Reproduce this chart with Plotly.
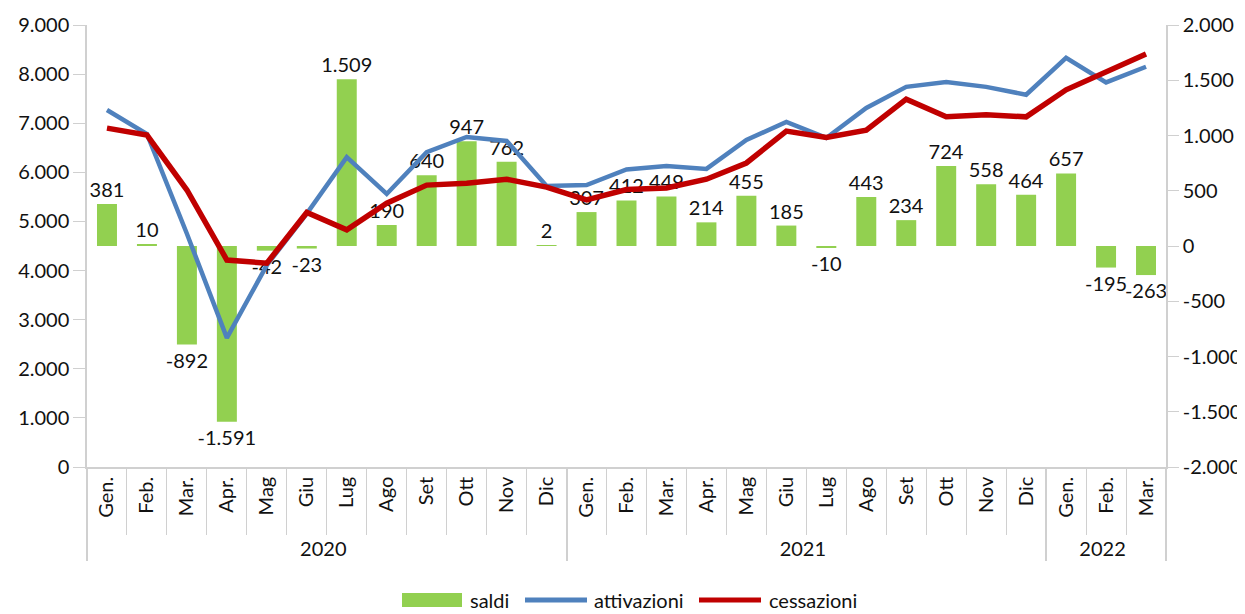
import plotly.graph_objects as go

years = ["2020"] * 12 + ["2021"] * 12 + ["2022"] * 3
months = ["Gen.", "Feb.", "Mar.", "Apr.", "Mag", "Giu", "Lug", "Ago", "Set", "Ott", "Nov", "Dic",
          "Gen.", "Feb.", "Mar.", "Apr.", "Mag", "Giu", "Lug", "Ago", "Set", "Ott", "Nov", "Dic",
          "Gen.", "Feb.", "Mar."]

saldi = [381, 10, -892, -1591, -42, -23, 1509, 190, 640, 947, 762, 2,
         307, 412, 449, 214, 455, 185, -10, 443, 234, 724, 558, 464,
         657, -195, -263]
attivazioni = [7270, 6780, 4750, 2630, 4110, 5160, 6310, 5560, 6410, 6720, 6640, 5720,
               5740, 6060, 6130, 6070, 6660, 7025, 6700, 7310, 7740, 7840, 7740, 7580,
               8330, 7830, 8150]
cessazioni = [6900, 6760, 5640, 4215, 4150, 5183, 4830, 5370, 5740, 5780, 5860, 5700,
              5440, 5650, 5680, 5860, 6190, 6840, 6710, 6860, 7490, 7130, 7170, 7130,
              7680, 8040, 8410]

left_ticks = [0, 1000, 2000, 3000, 4000, 5000, 6000, 7000, 8000, 9000]
right_ticks = [-2000, -1500, -1000, -500, 0, 500, 1000, 1500, 2000]

series_names = ["saldi", "attivazioni", "cessazioni"]
series_colors = ["#92D050", "#4F81BD", "#C00000"]


def it_fmt(v):
    s = f"{abs(v):,}".replace(",", ".")
    return ("-" if v < 0 else "") + s


FONT = "Lato, 'Open Sans', sans-serif"
FS = 20
x = [years, months]

fig = go.Figure()
fig.add_trace(go.Bar(
    x=x, y=saldi, name=series_names[0], yaxis="y", width=0.5,
    marker=dict(color=series_colors[0], line=dict(width=0)),
    text=[it_fmt(v) for v in saldi], textposition="outside", constraintext="none",
    textfont=dict(size=FS, color="#111", family=FONT), cliponaxis=False,
))
fig.add_trace(go.Scatter(
    x=x, y=attivazioni, name=series_names[1], yaxis="y2", mode="lines",
    line=dict(color=series_colors[1], width=4.5),
))
fig.add_trace(go.Scatter(
    x=x, y=cessazioni, name=series_names[2], yaxis="y2", mode="lines",
    line=dict(color=series_colors[2], width=5.5),
))

# --- manual legend (Excel-like wide swatches), in paper coordinates ---
PL, PW, PT, PH = 87, 1079, 25, 442   # plot area in window pixels


def px(xp):
    return (xp - PL) / PW


def py(yp):
    return 1 - (yp - PT) / PH


ly = 600
fig.add_shape(type="rect", xref="paper", yref="paper",
              x0=px(402), x1=px(462), y0=py(ly + 7), y1=py(ly - 7),
              fillcolor=series_colors[0], line=dict(width=0))
fig.add_shape(type="line", xref="paper", yref="paper",
              x0=px(525), x1=px(587), y0=py(ly), y1=py(ly),
              line=dict(color=series_colors[1], width=5))
fig.add_shape(type="line", xref="paper", yref="paper",
              x0=px(699), x1=px(761), y0=py(ly), y1=py(ly),
              line=dict(color=series_colors[2], width=5))
for name, xs in zip(series_names, [468, 592, 767]):
    fig.add_annotation(text=name, xref="paper", yref="paper", x=px(xs), y=py(ly),
                       xanchor="left", yanchor="middle", showarrow=False,
                       font=dict(size=FS, color="#111", family=FONT))

axis_col = "#D0D0D0"
fig.update_layout(
    width=1237, height=606,
    margin=dict(l=79, r=79, t=17, b=147, autoexpand=False),
    paper_bgcolor="white", plot_bgcolor="white",
    font=dict(family=FONT, size=FS, color="#111"),
    separators=",.",
    bargap=0.5,
    showlegend=False,
    xaxis=dict(
        type="multicategory", showline=True, linecolor=axis_col, linewidth=1.5,
        ticks="outside", tickson="boundaries", ticklen=66, tickcolor=axis_col,
        tickangle=-90, showdividers=True, dividercolor=axis_col, dividerwidth=1.5,
        tickfont=dict(size=FS), showgrid=False, automargin=False,
    ),
    yaxis=dict(
        side="right", range=[-2000, 2000], tickvals=right_ticks,
        ticktext=[it_fmt(v) for v in right_ticks],
        showline=True, linecolor=axis_col, linewidth=1.5, ticks="outside",
        ticklen=11, tickcolor=axis_col, showgrid=False, zeroline=False,
        tickfont=dict(size=FS), automargin=False,
    ),
    yaxis2=dict(
        side="left", overlaying="y", range=[0, 9000], tickvals=left_ticks,
        ticktext=[it_fmt(v) for v in left_ticks],
        showline=True, linecolor=axis_col, linewidth=1.5, ticks="outside",
        ticklen=12, tickcolor=axis_col, showgrid=False, zeroline=False,
        tickfont=dict(size=FS), automargin=False,
    ),
)

fig.write_html("out.html")
